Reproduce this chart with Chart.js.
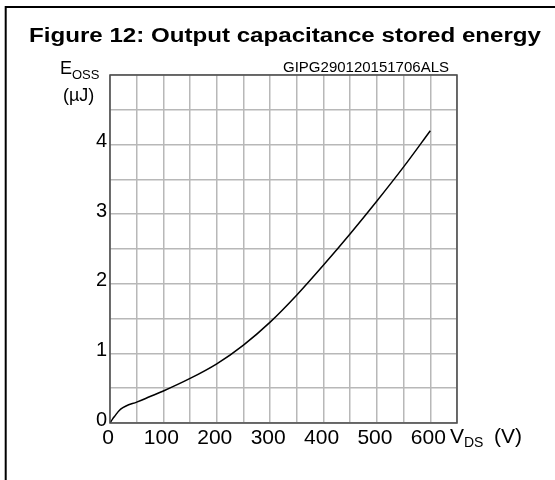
<!DOCTYPE html>
<html>
<head>
<meta charset="utf-8">
<script src="https://cdn.jsdelivr.net/npm/chart.js@4.4.0/dist/chart.umd.min.js"></script>
<style>
  html, body { margin: 0; padding: 0; background: #fff; }
</style>
</head>
<body>
<canvas id="eossChart" width="555" height="480"></canvas>
<script>
// Eoss vs Vds
const vds  = [0, 5, 10, 15, 20, 30, 50, 75, 100, 150, 200, 250, 300, 350, 400, 450, 500, 550, 600];
const eoss = [0, 0.06, 0.11, 0.16, 0.2, 0.245, 0.3, 0.38, 0.46, 0.64, 0.85, 1.12, 1.45, 1.84, 2.27, 2.72, 3.19, 3.68, 4.2];

const xTickLabels = [0, 100, 200, 300, 400, 500, 600];
const yTickLabels = [0, 1, 2, 3, 4];

const FONT = '"Liberation Sans", Arial, sans-serif';

// figure frame, plot frame and the free-standing texts
const decorations = {
  id: 'decorations',
  afterDraw(chart) {
    const c = chart.ctx;
    const a = chart.chartArea;
    c.save();

    // outer figure frame (top + left only)
    c.strokeStyle = '#000';
    c.lineWidth = 2;
    c.beginPath();
    c.moveTo(555, 7);
    c.lineTo(5.7, 7);
    c.lineTo(5.7, 480);
    c.stroke();

    // plot frame
    c.strokeStyle = '#4a4a4a';
    c.lineWidth = 1.5;
    c.strokeRect(a.left, a.top, a.right - a.left, a.bottom - a.top);

    c.fillStyle = '#000';
    c.textBaseline = 'alphabetic';

    // title, stretched a bit like the original bitmap
    const title = 'Figure 12: Output capacitance stored energy';
    c.font = 'bold 20px ' + FONT;
    const tw = c.measureText(title).width;
    c.save();
    c.translate(29, 42);
    c.scale(512 / tw, 1);
    c.textAlign = 'left';
    c.fillText(title, 0, 0);
    c.restore();

    // figure code
    c.font = '15px ' + FONT;
    c.textAlign = 'right';
    c.fillText('GIPG290120151706ALS', 449, a.top - 3);

    // y unit
    c.textAlign = 'left';
    c.font = '18px ' + FONT;
    c.fillText('E', 60, 74.3);
    c.font = '13px ' + FONT;
    c.fillText('OSS', 72, 78.5);
    c.font = '18px ' + FONT;
    c.fillText('(\u00b5J)', 63, 101);

    // x unit
    c.font = '21px ' + FONT;
    c.fillText('V', 450, 443);
    c.font = '14px ' + FONT;
    c.fillText('DS', 464, 447);
    c.font = '21px ' + FONT;
    c.fillText('(V)', 494, 443);

    c.restore();
  }
};

new Chart(document.getElementById('eossChart'), {
  type: 'line',
  data: {
    datasets: [{
      data: vds.map((v, i) => ({ x: v, y: eoss[i] })),
      borderColor: '#000',
      borderWidth: 1.5,
      pointRadius: 0,
      fill: false,
      cubicInterpolationMode: 'monotone'
    }]
  },
  options: {
    responsive: false,
    animation: false,
    devicePixelRatio: 1,
    layout: { padding: { left: 0, top: 75, right: 98, bottom: 0 } },
    plugins: {
      legend: { display: false },
      tooltip: { enabled: false }
    },
    scales: {
      x: {
        type: 'linear',
        min: 0,
        max: 650,
        afterFit: s => { s.height = 57; },
        grid: { color: '#b8b8b8', lineWidth: 1.5, drawTicks: false },
        border: { display: false },
        ticks: {
          stepSize: 50,
          padding: 3,
          labelOffset: -2,
          color: '#000',
          font: { size: 21, family: FONT },
          maxRotation: 0,
          autoSkip: false,
          callback: v => xTickLabels.includes(v) ? String(v) : ''
        }
      },
      y: {
        min: 0,
        max: 5,
        afterFit: s => { s.width = 110; },
        grid: { color: '#b8b8b8', lineWidth: 1.5, drawTicks: false },
        border: { display: false },
        ticks: {
          stepSize: 0.5,
          padding: 3,
          labelOffset: -3,
          color: '#000',
          font: { size: 20, family: FONT },
          autoSkip: false,
          callback: v => yTickLabels.includes(v) ? String(v) : ''
        }
      }
    }
  },
  plugins: [decorations]
});
</script>
</body>
</html>
